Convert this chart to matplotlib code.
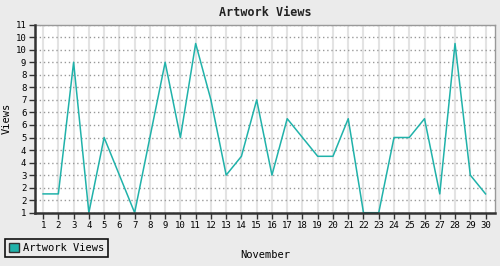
import numpy as np
import matplotlib
matplotlib.use("Agg")
import matplotlib.pyplot as plt
from matplotlib.patches import Patch

# data
days = list(range(1, 31))
views = [2, 2, 9, 1, 5, 3, 1, 5, 9, 5,
         10, 7, 3, 4, 7, 3, 6, 5, 4, 4,
         6, 1, 1, 5, 5, 6, 2, 10, 3, 2]
y_ticks = np.linspace(1, 11, 16)
y_labels = [str(int(round(v))) for v in y_ticks]

bg = "#ebebeb"
teal = "#20b2aa"
mono = "DejaVu Sans Mono"

fig = plt.figure(figsize=(5, 2.66), dpi=100, facecolor=bg)
ax = fig.add_axes([34.7 / 500, 1 - 212.7 / 266, (495 - 34.7) / 500, (212.7 - 24.7) / 266])
ax.set_facecolor("white")

# below the spines so the flat part on the x axis is hidden like the original
ax.plot(days, views, color=teal, lw=1.1, label="Artwork Views", zorder=2)

ax.set_xlim(0.45, 30.62)
ax.set_ylim(1, 11)
ax.set_xticks(days)
ax.set_xticklabels([str(d) for d in days], fontsize=6.5, family=mono)
ax.set_yticks(y_ticks)
ax.set_yticklabels(y_labels, fontsize=6.5, family=mono)
ax.tick_params(axis="both", direction="out", length=4, width=1, color="#333333", pad=2)

# grid
ax.xaxis.grid(True, color="#e3e3e3", lw=1.5, linestyle="-", zorder=0)
ax.yaxis.grid(True, color="#999999", lw=1, linestyle=(0, (1, 2)), zorder=1)
ax.set_axisbelow(True)

for s in ["left", "bottom"]:
    ax.spines[s].set_color("#333333")
    ax.spines[s].set_linewidth(1.8)
    ax.spines[s].set_zorder(3)
for s in ["top", "right"]:
    ax.spines[s].set_color("#999999")
    ax.spines[s].set_linewidth(1)

ax.set_title("Artwork Views", fontsize=8.5, family=mono, fontweight="bold", color="#222222", pad=6)
ax.set_ylabel("Views", fontsize=7.5, family=mono, labelpad=3)
fig.text(265 / 500, 1 - 255 / 266, "November", fontsize=7.5, family=mono, ha="center", va="center")

handle = Patch(facecolor=teal, edgecolor="#333333", linewidth=1)
leg = fig.legend([handle], ["Artwork Views"], loc="lower left",
                 bbox_to_anchor=(5 / 500, 9.5 / 266), borderaxespad=0,
                 prop={"family": mono, "size": 7.5}, fancybox=False,
                 frameon=True, edgecolor="#111111", facecolor=bg,
                 handlelength=1.0, handleheight=1.0, handletextpad=0.4,
                 borderpad=0.35, framealpha=1)
leg.get_frame().set_linewidth(1.2)

fig.savefig("out.png", dpi=100, facecolor=bg)
